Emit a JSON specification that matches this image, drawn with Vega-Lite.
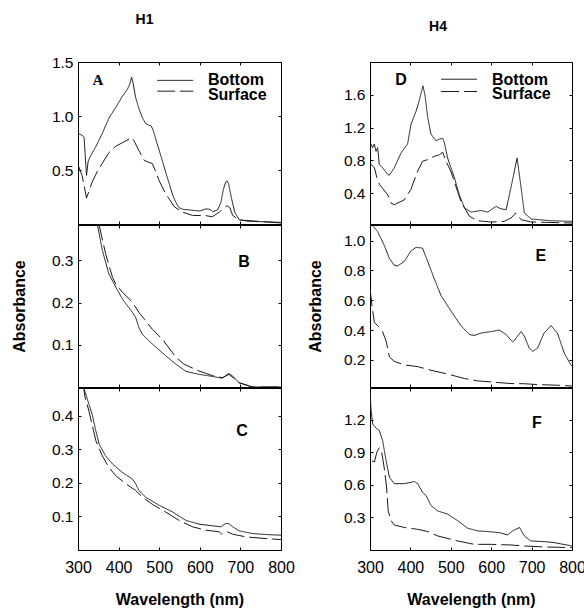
{
  "$schema": "https://vega.github.io/schema/vega-lite/v6.json",
  "padding": {"left": 10, "top": 12, "right": 5, "bottom": 3},
  "background": "white",
  "spacing": 11,
  "config": {
    "view": {"stroke": "black", "strokeWidth": 1},
    "axis": {"grid": false, "domainColor": "black", "tickColor": "black", "tickSize": -3, "labelColor": "black", "titleColor": "black", "labelFont": "Liberation Sans", "titleFont": "Liberation Sans", "labelFontSize": 15.5, "titleFontSize": 16, "titleFontWeight": "bold", "labelPadding": 8, "labelFlush": false, "labelOverlap": false},
    "title": {"font": "Liberation Sans", "fontSize": 14, "fontWeight": "bold", "color": "black", "frame": "group"},
    "text": {"font": "Liberation Sans", "color": "black"}
  },
  "datasets": {
    "spectra": [
      {"panel":"A","series":"Bottom","wl":300,"abs":0.84},{"panel":"A","series":"Bottom","wl":305,"abs":0.83},{"panel":"A","series":"Bottom","wl":311,"abs":0.82},{"panel":"A","series":"Bottom","wl":315,"abs":0.80},{"panel":"A","series":"Bottom","wl":318,"abs":0.62},{"panel":"A","series":"Bottom","wl":321,"abs":0.45},{"panel":"A","series":"Bottom","wl":325,"abs":0.58},{"panel":"A","series":"Bottom","wl":331,"abs":0.63},{"panel":"A","series":"Bottom","wl":343,"abs":0.71},{"panel":"A","series":"Bottom","wl":360,"abs":0.84},{"panel":"A","series":"Bottom","wl":376,"abs":0.98},{"panel":"A","series":"Bottom","wl":393,"abs":1.08},{"panel":"A","series":"Bottom","wl":409,"abs":1.18},{"panel":"A","series":"Bottom","wl":422,"abs":1.25},{"panel":"A","series":"Bottom","wl":428,"abs":1.30},{"panel":"A","series":"Bottom","wl":432,"abs":1.36},{"panel":"A","series":"Bottom","wl":436,"abs":1.30},{"panel":"A","series":"Bottom","wl":442,"abs":1.17},{"panel":"A","series":"Bottom","wl":450,"abs":1.07},{"panel":"A","series":"Bottom","wl":459,"abs":0.98},{"panel":"A","series":"Bottom","wl":467,"abs":0.93},{"panel":"A","series":"Bottom","wl":474,"abs":0.915},{"panel":"A","series":"Bottom","wl":480,"abs":0.91},{"panel":"A","series":"Bottom","wl":486,"abs":0.86},{"panel":"A","series":"Bottom","wl":492,"abs":0.78},{"panel":"A","series":"Bottom","wl":505,"abs":0.62},{"panel":"A","series":"Bottom","wl":516,"abs":0.48},{"panel":"A","series":"Bottom","wl":525,"abs":0.37},{"panel":"A","series":"Bottom","wl":533,"abs":0.27},{"panel":"A","series":"Bottom","wl":541,"abs":0.20},{"panel":"A","series":"Bottom","wl":549,"abs":0.15},{"panel":"A","series":"Bottom","wl":560,"abs":0.135},{"panel":"A","series":"Bottom","wl":575,"abs":0.13},{"panel":"A","series":"Bottom","wl":600,"abs":0.12},{"panel":"A","series":"Bottom","wl":615,"abs":0.14},{"panel":"A","series":"Bottom","wl":625,"abs":0.135},{"panel":"A","series":"Bottom","wl":632,"abs":0.115},{"panel":"A","series":"Bottom","wl":644,"abs":0.13},{"panel":"A","series":"Bottom","wl":652,"abs":0.20},{"panel":"A","series":"Bottom","wl":658,"abs":0.32},{"panel":"A","series":"Bottom","wl":664,"abs":0.39},{"panel":"A","series":"Bottom","wl":667,"abs":0.40},{"panel":"A","series":"Bottom","wl":671,"abs":0.37},{"panel":"A","series":"Bottom","wl":678,"abs":0.24},{"panel":"A","series":"Bottom","wl":686,"abs":0.11},{"panel":"A","series":"Bottom","wl":697,"abs":0.04},{"panel":"A","series":"Bottom","wl":720,"abs":0.025},{"panel":"A","series":"Bottom","wl":760,"abs":0.02},{"panel":"A","series":"Bottom","wl":800,"abs":0.01},
      {"panel":"A","series":"Surface","wl":300,"abs":0.55},{"panel":"A","series":"Surface","wl":310,"abs":0.45},{"panel":"A","series":"Surface","wl":318,"abs":0.30},{"panel":"A","series":"Surface","wl":321,"abs":0.24},{"panel":"A","series":"Surface","wl":335,"abs":0.39},{"panel":"A","series":"Surface","wl":348,"abs":0.49},{"panel":"A","series":"Surface","wl":376,"abs":0.66},{"panel":"A","series":"Surface","wl":393,"abs":0.72},{"panel":"A","series":"Surface","wl":418,"abs":0.77},{"panel":"A","series":"Surface","wl":432,"abs":0.80},{"panel":"A","series":"Surface","wl":438,"abs":0.77},{"panel":"A","series":"Surface","wl":450,"abs":0.68},{"panel":"A","series":"Surface","wl":463,"abs":0.59},{"panel":"A","series":"Surface","wl":475,"abs":0.57},{"panel":"A","series":"Surface","wl":483,"abs":0.56},{"panel":"A","series":"Surface","wl":492,"abs":0.48},{"panel":"A","series":"Surface","wl":500,"abs":0.40},{"panel":"A","series":"Surface","wl":516,"abs":0.28},{"panel":"A","series":"Surface","wl":525,"abs":0.23},{"panel":"A","series":"Surface","wl":537,"abs":0.16},{"panel":"A","series":"Surface","wl":557,"abs":0.11},{"panel":"A","series":"Surface","wl":582,"abs":0.08},{"panel":"A","series":"Surface","wl":615,"abs":0.077},{"panel":"A","series":"Surface","wl":631,"abs":0.067},{"panel":"A","series":"Surface","wl":648,"abs":0.11},{"panel":"A","series":"Surface","wl":660,"abs":0.15},{"panel":"A","series":"Surface","wl":667,"abs":0.17},{"panel":"A","series":"Surface","wl":674,"abs":0.15},{"panel":"A","series":"Surface","wl":681,"abs":0.08},{"panel":"A","series":"Surface","wl":697,"abs":0.037},{"panel":"A","series":"Surface","wl":763,"abs":0.02},{"panel":"A","series":"Surface","wl":800,"abs":0.015},
      {"panel":"B","series":"Bottom","wl":320,"abs":0.55},{"panel":"B","series":"Bottom","wl":340,"abs":0.44},{"panel":"B","series":"Bottom","wl":348,"abs":0.384},{"panel":"B","series":"Bottom","wl":360,"abs":0.324},{"panel":"B","series":"Bottom","wl":376,"abs":0.268},{"panel":"B","series":"Bottom","wl":393,"abs":0.237},{"panel":"B","series":"Bottom","wl":409,"abs":0.209},{"panel":"B","series":"Bottom","wl":434,"abs":0.177},{"panel":"B","series":"Bottom","wl":442,"abs":0.165},{"panel":"B","series":"Bottom","wl":450,"abs":0.141},{"panel":"B","series":"Bottom","wl":459,"abs":0.124},{"panel":"B","series":"Bottom","wl":483,"abs":0.102},{"panel":"B","series":"Bottom","wl":516,"abs":0.074},{"panel":"B","series":"Bottom","wl":541,"abs":0.054},{"panel":"B","series":"Bottom","wl":566,"abs":0.037},{"panel":"B","series":"Bottom","wl":598,"abs":0.030},{"panel":"B","series":"Bottom","wl":631,"abs":0.025},{"panel":"B","series":"Bottom","wl":655,"abs":0.021},{"panel":"B","series":"Bottom","wl":665,"abs":0.028},{"panel":"B","series":"Bottom","wl":672,"abs":0.032},{"panel":"B","series":"Bottom","wl":681,"abs":0.026},{"panel":"B","series":"Bottom","wl":697,"abs":0.010},{"panel":"B","series":"Bottom","wl":730,"abs":0.0},{"panel":"B","series":"Bottom","wl":800,"abs":0.0},
      {"panel":"B","series":"Surface","wl":320,"abs":0.55},{"panel":"B","series":"Surface","wl":345,"abs":0.42},{"panel":"B","series":"Surface","wl":352,"abs":0.384},{"panel":"B","series":"Surface","wl":368,"abs":0.316},{"panel":"B","series":"Surface","wl":385,"abs":0.260},{"panel":"B","series":"Surface","wl":393,"abs":0.244},{"panel":"B","series":"Surface","wl":409,"abs":0.225},{"panel":"B","series":"Surface","wl":434,"abs":0.201},{"panel":"B","series":"Surface","wl":450,"abs":0.177},{"panel":"B","series":"Surface","wl":483,"abs":0.137},{"panel":"B","series":"Surface","wl":508,"abs":0.113},{"panel":"B","series":"Surface","wl":541,"abs":0.071},{"panel":"B","series":"Surface","wl":561,"abs":0.054},{"panel":"B","series":"Surface","wl":598,"abs":0.038},{"panel":"B","series":"Surface","wl":631,"abs":0.027},{"panel":"B","series":"Surface","wl":656,"abs":0.022},{"panel":"B","series":"Surface","wl":672,"abs":0.030},{"panel":"B","series":"Surface","wl":697,"abs":0.010},{"panel":"B","series":"Surface","wl":730,"abs":0.0},{"panel":"B","series":"Surface","wl":800,"abs":0.0},
      {"panel":"C","series":"Bottom","wl":310,"abs":0.52},{"panel":"C","series":"Bottom","wl":315,"abs":0.48},{"panel":"C","series":"Bottom","wl":327,"abs":0.433},{"panel":"C","series":"Bottom","wl":335,"abs":0.403},{"panel":"C","series":"Bottom","wl":344,"abs":0.354},{"panel":"C","series":"Bottom","wl":352,"abs":0.315},{"panel":"C","series":"Bottom","wl":368,"abs":0.28},{"panel":"C","series":"Bottom","wl":385,"abs":0.256},{"panel":"C","series":"Bottom","wl":409,"abs":0.231},{"panel":"C","series":"Bottom","wl":434,"abs":0.211},{"panel":"C","series":"Bottom","wl":442,"abs":0.197},{"panel":"C","series":"Bottom","wl":450,"abs":0.177},{"panel":"C","series":"Bottom","wl":467,"abs":0.157},{"panel":"C","series":"Bottom","wl":500,"abs":0.133},{"panel":"C","series":"Bottom","wl":533,"abs":0.113},{"panel":"C","series":"Bottom","wl":566,"abs":0.088},{"panel":"C","series":"Bottom","wl":598,"abs":0.077},{"panel":"C","series":"Bottom","wl":631,"abs":0.072},{"panel":"C","series":"Bottom","wl":652,"abs":0.069},{"panel":"C","series":"Bottom","wl":664,"abs":0.079},{"panel":"C","series":"Bottom","wl":672,"abs":0.078},{"panel":"C","series":"Bottom","wl":681,"abs":0.069},{"panel":"C","series":"Bottom","wl":697,"abs":0.057},{"panel":"C","series":"Bottom","wl":730,"abs":0.049},{"panel":"C","series":"Bottom","wl":763,"abs":0.046},{"panel":"C","series":"Bottom","wl":800,"abs":0.044},
      {"panel":"C","series":"Surface","wl":312,"abs":0.50},{"panel":"C","series":"Surface","wl":317,"abs":0.457},{"panel":"C","series":"Surface","wl":327,"abs":0.413},{"panel":"C","series":"Surface","wl":344,"abs":0.325},{"panel":"C","series":"Surface","wl":360,"abs":0.28},{"panel":"C","series":"Surface","wl":376,"abs":0.246},{"panel":"C","series":"Surface","wl":393,"abs":0.221},{"panel":"C","series":"Surface","wl":418,"abs":0.197},{"panel":"C","series":"Surface","wl":442,"abs":0.177},{"panel":"C","series":"Surface","wl":459,"abs":0.157},{"panel":"C","series":"Surface","wl":483,"abs":0.136},{"panel":"C","series":"Surface","wl":516,"abs":0.113},{"panel":"C","series":"Surface","wl":549,"abs":0.088},{"panel":"C","series":"Surface","wl":582,"abs":0.069},{"panel":"C","series":"Surface","wl":615,"abs":0.059},{"panel":"C","series":"Surface","wl":648,"abs":0.054},{"panel":"C","series":"Surface","wl":654,"abs":0.047},{"panel":"C","series":"Surface","wl":660,"abs":0.052},{"panel":"C","series":"Surface","wl":668,"abs":0.054},{"panel":"C","series":"Surface","wl":681,"abs":0.047},{"panel":"C","series":"Surface","wl":714,"abs":0.039},{"panel":"C","series":"Surface","wl":763,"abs":0.034},{"panel":"C","series":"Surface","wl":800,"abs":0.031},
      {"panel":"D","series":"Bottom","wl":300,"abs":0.98},{"panel":"D","series":"Bottom","wl":302.5,"abs":1.0},{"panel":"D","series":"Bottom","wl":306.6,"abs":0.955},{"panel":"D","series":"Bottom","wl":310.7,"abs":1.0},{"panel":"D","series":"Bottom","wl":314.9,"abs":0.91},{"panel":"D","series":"Bottom","wl":319,"abs":0.955},{"panel":"D","series":"Bottom","wl":323,"abs":0.75},{"panel":"D","series":"Bottom","wl":331,"abs":0.71},{"panel":"D","series":"Bottom","wl":344,"abs":0.63},{"panel":"D","series":"Bottom","wl":348,"abs":0.62},{"panel":"D","series":"Bottom","wl":360,"abs":0.71},{"panel":"D","series":"Bottom","wl":376.7,"abs":0.89},{"panel":"D","series":"Bottom","wl":393,"abs":1.0},{"panel":"D","series":"Bottom","wl":401.5,"abs":1.24},{"panel":"D","series":"Bottom","wl":414,"abs":1.40},{"panel":"D","series":"Bottom","wl":422,"abs":1.53},{"panel":"D","series":"Bottom","wl":428,"abs":1.65},{"panel":"D","series":"Bottom","wl":431,"abs":1.71},{"panel":"D","series":"Bottom","wl":436,"abs":1.60},{"panel":"D","series":"Bottom","wl":443,"abs":1.32},{"panel":"D","series":"Bottom","wl":451,"abs":1.12},{"panel":"D","series":"Bottom","wl":463,"abs":1.04},{"panel":"D","series":"Bottom","wl":472,"abs":1.06},{"panel":"D","series":"Bottom","wl":480,"abs":1.07},{"panel":"D","series":"Bottom","wl":484,"abs":1.02},{"panel":"D","series":"Bottom","wl":492,"abs":0.83},{"panel":"D","series":"Bottom","wl":509,"abs":0.59},{"panel":"D","series":"Bottom","wl":521,"abs":0.38},{"panel":"D","series":"Bottom","wl":534,"abs":0.22},{"panel":"D","series":"Bottom","wl":550,"abs":0.17},{"panel":"D","series":"Bottom","wl":575,"abs":0.19},{"panel":"D","series":"Bottom","wl":591,"abs":0.17},{"panel":"D","series":"Bottom","wl":612,"abs":0.24},{"panel":"D","series":"Bottom","wl":624,"abs":0.21},{"panel":"D","series":"Bottom","wl":637,"abs":0.20},{"panel":"D","series":"Bottom","wl":649,"abs":0.47},{"panel":"D","series":"Bottom","wl":664,"abs":0.83},{"panel":"D","series":"Bottom","wl":674,"abs":0.47},{"panel":"D","series":"Bottom","wl":682,"abs":0.16},{"panel":"D","series":"Bottom","wl":699,"abs":0.086},{"panel":"D","series":"Bottom","wl":748,"abs":0.065},{"panel":"D","series":"Bottom","wl":800,"abs":0.057},
      {"panel":"D","series":"Surface","wl":300,"abs":0.78},{"panel":"D","series":"Surface","wl":303,"abs":0.75},{"panel":"D","series":"Surface","wl":311,"abs":0.71},{"panel":"D","series":"Surface","wl":317,"abs":0.59},{"panel":"D","series":"Surface","wl":323,"abs":0.51},{"panel":"D","series":"Surface","wl":344,"abs":0.38},{"panel":"D","series":"Surface","wl":352,"abs":0.28},{"panel":"D","series":"Surface","wl":360,"abs":0.26},{"panel":"D","series":"Surface","wl":385,"abs":0.32},{"panel":"D","series":"Surface","wl":401,"abs":0.445},{"panel":"D","series":"Surface","wl":418,"abs":0.67},{"panel":"D","series":"Surface","wl":430,"abs":0.79},{"panel":"D","series":"Surface","wl":443,"abs":0.81},{"panel":"D","series":"Surface","wl":459,"abs":0.85},{"panel":"D","series":"Surface","wl":472,"abs":0.87},{"panel":"D","series":"Surface","wl":480,"abs":0.90},{"panel":"D","series":"Surface","wl":488,"abs":0.79},{"panel":"D","series":"Surface","wl":500,"abs":0.67},{"panel":"D","series":"Surface","wl":517,"abs":0.42},{"panel":"D","series":"Surface","wl":525,"abs":0.30},{"panel":"D","series":"Surface","wl":546,"abs":0.12},{"panel":"D","series":"Surface","wl":566,"abs":0.065},{"panel":"D","series":"Surface","wl":600,"abs":0.049},{"panel":"D","series":"Surface","wl":632,"abs":0.057},{"panel":"D","series":"Surface","wl":649,"abs":0.098},{"panel":"D","series":"Surface","wl":661,"abs":0.16},{"panel":"D","series":"Surface","wl":674,"abs":0.078},{"panel":"D","series":"Surface","wl":698,"abs":0.05},{"panel":"D","series":"Surface","wl":800,"abs":0.037},
      {"panel":"E","series":"Bottom","wl":300,"abs":1.15},{"panel":"E","series":"Bottom","wl":306.6,"abs":1.10},{"panel":"E","series":"Bottom","wl":319,"abs":1.06},{"panel":"E","series":"Bottom","wl":335,"abs":0.97},{"panel":"E","series":"Bottom","wl":348,"abs":0.88},{"panel":"E","series":"Bottom","wl":360,"abs":0.836},{"panel":"E","series":"Bottom","wl":368,"abs":0.83},{"panel":"E","series":"Bottom","wl":385,"abs":0.86},{"panel":"E","series":"Bottom","wl":401,"abs":0.93},{"panel":"E","series":"Bottom","wl":414,"abs":0.955},{"panel":"E","series":"Bottom","wl":430,"abs":0.95},{"panel":"E","series":"Bottom","wl":443,"abs":0.86},{"panel":"E","series":"Bottom","wl":459,"abs":0.745},{"panel":"E","series":"Bottom","wl":476,"abs":0.63},{"panel":"E","series":"Bottom","wl":500,"abs":0.53},{"panel":"E","series":"Bottom","wl":525,"abs":0.43},{"panel":"E","series":"Bottom","wl":546,"abs":0.37},{"panel":"E","series":"Bottom","wl":558,"abs":0.364},{"panel":"E","series":"Bottom","wl":575,"abs":0.38},{"panel":"E","series":"Bottom","wl":600,"abs":0.39},{"panel":"E","series":"Bottom","wl":620,"abs":0.40},{"panel":"E","series":"Bottom","wl":637,"abs":0.37},{"panel":"E","series":"Bottom","wl":653,"abs":0.32},{"panel":"E","series":"Bottom","wl":657,"abs":0.33},{"panel":"E","series":"Bottom","wl":674,"abs":0.39},{"panel":"E","series":"Bottom","wl":682,"abs":0.36},{"panel":"E","series":"Bottom","wl":694,"abs":0.28},{"panel":"E","series":"Bottom","wl":703,"abs":0.257},{"panel":"E","series":"Bottom","wl":715,"abs":0.28},{"panel":"E","series":"Bottom","wl":731,"abs":0.38},{"panel":"E","series":"Bottom","wl":748,"abs":0.43},{"panel":"E","series":"Bottom","wl":764,"abs":0.38},{"panel":"E","series":"Bottom","wl":781,"abs":0.245},{"panel":"E","series":"Bottom","wl":797,"abs":0.166},{"panel":"E","series":"Bottom","wl":800,"abs":0.16},
      {"panel":"E","series":"Surface","wl":300,"abs":0.68},{"panel":"E","series":"Surface","wl":305,"abs":0.56},{"panel":"E","series":"Surface","wl":311,"abs":0.45},{"panel":"E","series":"Surface","wl":319,"abs":0.43},{"panel":"E","series":"Surface","wl":331,"abs":0.39},{"panel":"E","series":"Surface","wl":340,"abs":0.325},{"panel":"E","series":"Surface","wl":348,"abs":0.22},{"panel":"E","series":"Surface","wl":360,"abs":0.19},{"panel":"E","series":"Surface","wl":385,"abs":0.166},{"panel":"E","series":"Surface","wl":418,"abs":0.155},{"panel":"E","series":"Surface","wl":451,"abs":0.13},{"panel":"E","series":"Surface","wl":492,"abs":0.105},{"panel":"E","series":"Surface","wl":534,"abs":0.075},{"panel":"E","series":"Surface","wl":566,"abs":0.059},{"panel":"E","series":"Surface","wl":600,"abs":0.052},{"panel":"E","series":"Surface","wl":649,"abs":0.041},{"panel":"E","series":"Surface","wl":682,"abs":0.04},{"panel":"E","series":"Surface","wl":715,"abs":0.034},{"panel":"E","series":"Surface","wl":764,"abs":0.03},{"panel":"E","series":"Surface","wl":800,"abs":0.025},
      {"panel":"F","series":"Bottom","wl":300,"abs":1.47},{"panel":"F","series":"Bottom","wl":302.5,"abs":1.29},{"panel":"F","series":"Bottom","wl":306.6,"abs":1.16},{"panel":"F","series":"Bottom","wl":315,"abs":1.12},{"panel":"F","series":"Bottom","wl":323,"abs":1.10},{"panel":"F","series":"Bottom","wl":331,"abs":1.01},{"panel":"F","series":"Bottom","wl":340,"abs":0.82},{"panel":"F","series":"Bottom","wl":348,"abs":0.67},{"panel":"F","series":"Bottom","wl":360,"abs":0.61},{"panel":"F","series":"Bottom","wl":385,"abs":0.61},{"panel":"F","series":"Bottom","wl":410,"abs":0.63},{"panel":"F","series":"Bottom","wl":418,"abs":0.61},{"panel":"F","series":"Bottom","wl":430,"abs":0.53},{"panel":"F","series":"Bottom","wl":439,"abs":0.50},{"panel":"F","series":"Bottom","wl":451,"abs":0.41},{"panel":"F","series":"Bottom","wl":467,"abs":0.36},{"panel":"F","series":"Bottom","wl":492,"abs":0.33},{"panel":"F","series":"Bottom","wl":517,"abs":0.27},{"panel":"F","series":"Bottom","wl":542,"abs":0.20},{"panel":"F","series":"Bottom","wl":566,"abs":0.176},{"panel":"F","series":"Bottom","wl":600,"abs":0.167},{"panel":"F","series":"Bottom","wl":620,"abs":0.16},{"panel":"F","series":"Bottom","wl":641,"abs":0.139},{"panel":"F","series":"Bottom","wl":653,"abs":0.176},{"panel":"F","series":"Bottom","wl":670,"abs":0.207},{"panel":"F","series":"Bottom","wl":682,"abs":0.13},{"panel":"F","series":"Bottom","wl":698,"abs":0.083},{"panel":"F","series":"Bottom","wl":732,"abs":0.077},{"panel":"F","series":"Bottom","wl":756,"abs":0.068},{"panel":"F","series":"Bottom","wl":800,"abs":0.037},
      {"panel":"F","series":"Surface","wl":305,"abs":0.82},{"panel":"F","series":"Surface","wl":311,"abs":0.81},{"panel":"F","series":"Surface","wl":317,"abs":0.90},{"panel":"F","series":"Surface","wl":323,"abs":0.94},{"panel":"F","series":"Surface","wl":329,"abs":0.90},{"panel":"F","series":"Surface","wl":335,"abs":0.76},{"panel":"F","series":"Surface","wl":341,"abs":0.58},{"panel":"F","series":"Surface","wl":345,"abs":0.36},{"panel":"F","series":"Surface","wl":352,"abs":0.27},{"panel":"F","series":"Surface","wl":360,"abs":0.23},{"panel":"F","series":"Surface","wl":385,"abs":0.207},{"panel":"F","series":"Surface","wl":418,"abs":0.19},{"panel":"F","series":"Surface","wl":443,"abs":0.17},{"panel":"F","series":"Surface","wl":467,"abs":0.13},{"panel":"F","series":"Surface","wl":517,"abs":0.083},{"panel":"F","series":"Surface","wl":558,"abs":0.052},{"panel":"F","series":"Surface","wl":600,"abs":0.052},{"panel":"F","series":"Surface","wl":649,"abs":0.046},{"panel":"F","series":"Surface","wl":682,"abs":0.037},{"panel":"F","series":"Surface","wl":732,"abs":0.028},{"panel":"F","series":"Surface","wl":800,"abs":0.022}
    ],
    "letters": [
      {"panel":"A","label":"A","wl":349,"abs":1.33},
      {"panel":"B","label":"B","wl":709,"abs":0.296},
      {"panel":"C","label":"C","wl":704,"abs":0.353},
      {"panel":"D","label":"D","wl":377,"abs":1.78},
      {"panel":"E","label":"E","wl":723,"abs":0.90},
      {"panel":"F","label":"F","wl":713,"abs":1.17}
    ],
    "keylines": [
      {"panel":"A","series":"Bottom","wl":495,"wl2":584,"abs":1.33},
      {"panel":"A","series":"Surface","wl":495,"wl2":584,"abs":1.23},
      {"panel":"D","series":"Bottom","wl":476,"wl2":565,"abs":1.79},
      {"panel":"D","series":"Surface","wl":476,"wl2":565,"abs":1.64}
    ],
    "keytext": [
      {"panel":"A","label":"Bottom","wl":620,"abs":1.33},
      {"panel":"A","label":"Surface","wl":620,"abs":1.19},
      {"panel":"D","label":"Bottom","wl":602,"abs":1.78},
      {"panel":"D","label":"Surface","wl":602,"abs":1.61}
    ]
  },
  "hconcat": [
    {
      "spacing": -2,
      "vconcat": [
        {
          "width": 203, "height": 162,
          "title": {"text": "H1", "dx": -35, "offset": 28},
          "layer": [
            {"data": {"name": "spectra"}, "transform": [{"filter": "datum.panel === 'A'"}],
             "mark": {"type": "line", "clip": true, "strokeWidth": 1, "color": "#1a1a1a"},
             "encoding": {
               "x": {"field": "wl", "type": "quantitative", "scale": {"domain": [300, 800], "nice": false, "zero": false}, "axis": {"orient": "bottom", "values": [400, 500, 600, 700], "labels": false, "title": null}},
               "y": {"field": "abs", "type": "quantitative", "scale": {"domain": [0, 1.5], "nice": false}, "axis": {"orient": "left", "values": [0.5, 1.0, 1.5], "format": ".1f", "title": null}},
               "strokeDash": {"field": "series", "type": "nominal", "scale": {"domain": ["Bottom", "Surface"], "range": [[1, 0], [18, 5]]}, "legend": null}
             }},
            {"data": {"name": "letters"}, "transform": [{"filter": "datum.panel === 'A'"}],
             "mark": {"type": "text", "font": "Liberation Serif", "fontWeight": "bold", "fontSize": 15},
             "encoding": {
               "x": {"field": "wl", "type": "quantitative", "axis": {"orient": "top", "values": [400, 500, 600, 700], "labels": false, "title": null}},
               "y": {"field": "abs", "type": "quantitative", "axis": {"orient": "right", "values": [0.5, 1.0], "labels": false, "title": null}},
               "text": {"field": "label"}
             }},
            {"data": {"name": "keylines"}, "transform": [{"filter": "datum.panel === 'A'"}],
             "mark": {"type": "rule", "strokeWidth": 1, "color": "#1a1a1a"},
             "encoding": {
               "x": {"field": "wl", "type": "quantitative", "axis": null},
               "x2": {"field": "wl2"},
               "y": {"field": "abs", "type": "quantitative", "axis": null},
               "strokeDash": {"field": "series", "type": "nominal", "legend": null}
             }},
            {"data": {"name": "keytext"}, "transform": [{"filter": "datum.panel === 'A'"}],
             "mark": {"type": "text", "align": "left", "baseline": "middle", "fontWeight": "bold", "fontSize": 16},
             "encoding": {
               "x": {"field": "wl", "type": "quantitative", "axis": null},
               "y": {"field": "abs", "type": "quantitative", "axis": null},
               "text": {"field": "label"}
             }}
          ]
        },
        {
          "width": 203, "height": 162,
          "layer": [
            {"data": {"name": "spectra"}, "transform": [{"filter": "datum.panel === 'B'"}],
             "mark": {"type": "line", "clip": true, "strokeWidth": 1, "color": "#1a1a1a"},
             "encoding": {
               "x": {"field": "wl", "type": "quantitative", "scale": {"domain": [300, 800], "nice": false, "zero": false}, "axis": {"orient": "bottom", "values": [400, 500, 600, 700], "labels": false, "title": null}},
               "y": {"field": "abs", "type": "quantitative", "scale": {"domain": [0, 0.384], "nice": false}, "axis": {"orient": "left", "values": [0.1, 0.2, 0.3], "format": ".1f", "title": "Absorbance", "titlePadding": 24}},
               "strokeDash": {"field": "series", "type": "nominal", "scale": {"domain": ["Bottom", "Surface"], "range": [[1, 0], [18, 5]]}, "legend": null}
             }},
            {"data": {"name": "letters"}, "transform": [{"filter": "datum.panel === 'B'"}],
             "mark": {"type": "text", "fontWeight": "bold", "fontSize": 16},
             "encoding": {
               "x": {"field": "wl", "type": "quantitative", "axis": {"orient": "top", "values": [400, 500, 600, 700], "labels": false, "title": null}},
               "y": {"field": "abs", "type": "quantitative", "axis": {"orient": "right", "values": [0.1, 0.2, 0.3], "labels": false, "title": null}},
               "text": {"field": "label"}
             }}
          ]
        },
        {
          "width": 203, "height": 162,
          "layer": [
            {"data": {"name": "spectra"}, "transform": [{"filter": "datum.panel === 'C'"}],
             "mark": {"type": "line", "clip": true, "strokeWidth": 1, "color": "#1a1a1a"},
             "encoding": {
               "x": {"field": "wl", "type": "quantitative", "scale": {"domain": [300, 800], "nice": false, "zero": false}, "axis": {"orient": "bottom", "values": [300, 400, 500, 600, 700, 800], "title": "Wavelength (nm)", "labelFontSize": 16, "labelPadding": 12, "titlePadding": 16}},
               "y": {"field": "abs", "type": "quantitative", "scale": {"domain": [0, 0.482], "nice": false}, "axis": {"orient": "left", "values": [0.1, 0.2, 0.3, 0.4], "format": ".1f", "title": null}},
               "strokeDash": {"field": "series", "type": "nominal", "scale": {"domain": ["Bottom", "Surface"], "range": [[1, 0], [18, 5]]}, "legend": null}
             }},
            {"data": {"name": "letters"}, "transform": [{"filter": "datum.panel === 'C'"}],
             "mark": {"type": "text", "fontWeight": "bold", "fontSize": 16},
             "encoding": {
               "x": {"field": "wl", "type": "quantitative", "axis": {"orient": "top", "values": [400, 500, 600, 700], "labels": false, "title": null}},
               "y": {"field": "abs", "type": "quantitative", "axis": {"orient": "right", "values": [0.1, 0.2, 0.3, 0.4], "labels": false, "title": null}},
               "text": {"field": "label"}
             }}
          ]
        }
      ]
    },
    {
      "spacing": -2,
      "vconcat": [
        {
          "width": 202, "height": 162,
          "title": {"text": "H4", "dx": -33, "offset": 28},
          "layer": [
            {"data": {"name": "spectra"}, "transform": [{"filter": "datum.panel === 'D'"}],
             "mark": {"type": "line", "clip": true, "strokeWidth": 1, "color": "#1a1a1a"},
             "encoding": {
               "x": {"field": "wl", "type": "quantitative", "scale": {"domain": [300, 800], "nice": false, "zero": false}, "axis": {"orient": "bottom", "values": [400, 500, 600, 700], "labels": false, "title": null}},
               "y": {"field": "abs", "type": "quantitative", "scale": {"domain": [0.025, 2.0], "nice": false, "zero": false}, "axis": {"orient": "left", "values": [0.4, 0.8, 1.2, 1.6], "format": ".1f", "title": null}},
               "strokeDash": {"field": "series", "type": "nominal", "scale": {"domain": ["Bottom", "Surface"], "range": [[1, 0], [18, 5]]}, "legend": null}
             }},
            {"data": {"name": "letters"}, "transform": [{"filter": "datum.panel === 'D'"}],
             "mark": {"type": "text", "fontWeight": "bold", "fontSize": 16},
             "encoding": {
               "x": {"field": "wl", "type": "quantitative", "axis": {"orient": "top", "values": [400, 500, 600, 700], "labels": false, "title": null}},
               "y": {"field": "abs", "type": "quantitative", "axis": {"orient": "right", "values": [0.4, 0.8, 1.2, 1.6], "labels": false, "title": null}},
               "text": {"field": "label"}
             }},
            {"data": {"name": "keylines"}, "transform": [{"filter": "datum.panel === 'D'"}],
             "mark": {"type": "rule", "strokeWidth": 1, "color": "#1a1a1a"},
             "encoding": {
               "x": {"field": "wl", "type": "quantitative", "axis": null},
               "x2": {"field": "wl2"},
               "y": {"field": "abs", "type": "quantitative", "axis": null},
               "strokeDash": {"field": "series", "type": "nominal", "legend": null}
             }},
            {"data": {"name": "keytext"}, "transform": [{"filter": "datum.panel === 'D'"}],
             "mark": {"type": "text", "align": "left", "baseline": "middle", "fontWeight": "bold", "fontSize": 16},
             "encoding": {
               "x": {"field": "wl", "type": "quantitative", "axis": null},
               "y": {"field": "abs", "type": "quantitative", "axis": null},
               "text": {"field": "label"}
             }}
          ]
        },
        {
          "width": 202, "height": 162,
          "layer": [
            {"data": {"name": "spectra"}, "transform": [{"filter": "datum.panel === 'E'"}],
             "mark": {"type": "line", "clip": true, "strokeWidth": 1, "color": "#1a1a1a"},
             "encoding": {
               "x": {"field": "wl", "type": "quantitative", "scale": {"domain": [300, 800], "nice": false, "zero": false}, "axis": {"orient": "bottom", "values": [400, 500, 600, 700], "labels": false, "title": null}},
               "y": {"field": "abs", "type": "quantitative", "scale": {"domain": [0.018, 1.105], "nice": false, "zero": false}, "axis": {"orient": "left", "values": [0.2, 0.4, 0.6, 0.8, 1.0], "format": ".1f", "title": "Absorbance", "titlePadding": 20}},
               "strokeDash": {"field": "series", "type": "nominal", "scale": {"domain": ["Bottom", "Surface"], "range": [[1, 0], [18, 5]]}, "legend": null}
             }},
            {"data": {"name": "letters"}, "transform": [{"filter": "datum.panel === 'E'"}],
             "mark": {"type": "text", "fontWeight": "bold", "fontSize": 16},
             "encoding": {
               "x": {"field": "wl", "type": "quantitative", "axis": {"orient": "top", "values": [400, 500, 600, 700], "labels": false, "title": null}},
               "y": {"field": "abs", "type": "quantitative", "axis": {"orient": "right", "values": [0.2, 0.4, 0.6, 0.8, 1.0], "labels": false, "title": null}},
               "text": {"field": "label"}
             }}
          ]
        },
        {
          "width": 202, "height": 162,
          "layer": [
            {"data": {"name": "spectra"}, "transform": [{"filter": "datum.panel === 'F'"}],
             "mark": {"type": "line", "clip": true, "strokeWidth": 1, "color": "#1a1a1a"},
             "encoding": {
               "x": {"field": "wl", "type": "quantitative", "scale": {"domain": [300, 800], "nice": false, "zero": false}, "axis": {"orient": "bottom", "values": [300, 400, 500, 600, 700, 800], "title": "Wavelength (nm)", "labelFontSize": 16, "labelPadding": 12, "titlePadding": 16}},
               "y": {"field": "abs", "type": "quantitative", "scale": {"domain": [0, 1.49], "nice": false}, "axis": {"orient": "left", "values": [0.3, 0.6, 0.9, 1.2], "format": ".1f", "title": null}},
               "strokeDash": {"field": "series", "type": "nominal", "scale": {"domain": ["Bottom", "Surface"], "range": [[1, 0], [18, 5]]}, "legend": null}
             }},
            {"data": {"name": "letters"}, "transform": [{"filter": "datum.panel === 'F'"}],
             "mark": {"type": "text", "fontWeight": "bold", "fontSize": 16},
             "encoding": {
               "x": {"field": "wl", "type": "quantitative", "axis": {"orient": "top", "values": [400, 500, 600, 700], "labels": false, "title": null}},
               "y": {"field": "abs", "type": "quantitative", "axis": {"orient": "right", "values": [0.3, 0.6, 0.9, 1.2], "labels": false, "title": null}},
               "text": {"field": "label"}
             }}
          ]
        }
      ]
    }
  ]
}
